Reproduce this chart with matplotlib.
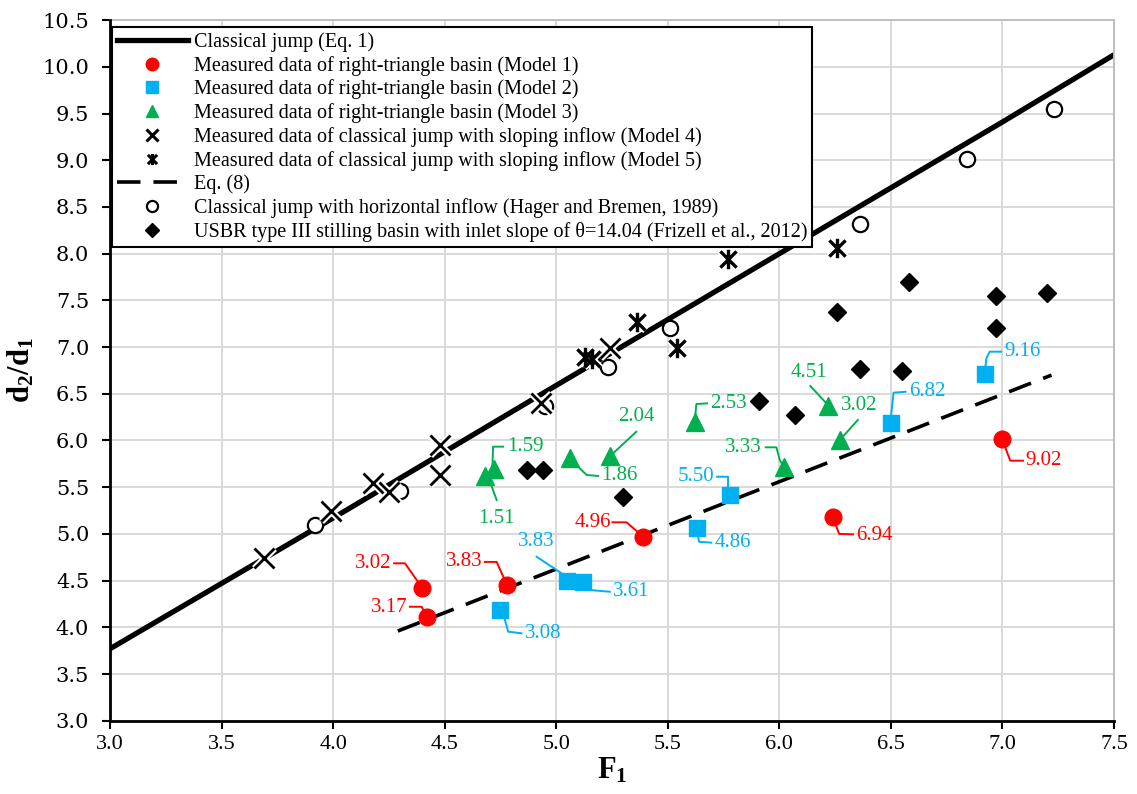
import numpy as np
import matplotlib
matplotlib.use('Agg')
import matplotlib.pyplot as plt
from matplotlib.path import Path
from matplotlib.lines import Line2D

plt.rcParams.update({
    'font.family': 'serif',
    'font.serif': ['Liberation Serif', 'DejaVu Serif'],
    'mathtext.fontset': 'custom',
    'mathtext.rm': 'Liberation Serif',
    'mathtext.it': 'Liberation Serif:italic',
    'mathtext.bf': 'Liberation Serif:bold',
})

RED, BLUE, GREEN = '#FF0000', '#00B0F0', '#00B050'

# --- Data ---
# Classical jump, Eq. (1)
eq1_F = [3.0, 4.0, 5.0, 6.0, 7.0, 7.5]
eq1_y = [3.77, 5.17, 6.59, 8.00, 9.41, 10.13]
# Eq. (8)
eq8_F = [4.29, 7.22]
eq8_y = [3.96, 6.70]

# Model 1 (red circles)
m1_F = [4.40, 4.42, 4.78, 5.39, 6.24, 7.00]
m1_y = [4.42, 4.11, 4.45, 4.97, 5.18, 6.02]
m1_lab = ['3.02', '3.17', '3.83', '4.96', '6.94', '9.02']

# Model 2 (blue squares)
m2_F = [4.75, 5.05, 5.12, 5.63, 5.78, 6.50, 6.92]
m2_y = [4.19, 4.50, 4.49, 5.06, 5.42, 6.19, 6.71]
m2_lab = ['3.08', '3.83', '3.61', '4.86', '5.50', '6.82', '9.16']

# Model 3 (green triangles)
m3_F = [4.68, 4.72, 5.06, 5.24, 5.62, 6.02, 6.22, 6.27]
m3_y = [5.62, 5.70, 5.81, 5.83, 6.20, 5.72, 6.37, 6.01]
m3_lab = ['1.51', '1.59', '1.86', '2.04', '2.53', '3.33', '4.51', '3.02']

# Model 4 (x)
m4_F = [3.69, 3.99, 4.18, 4.25, 4.48, 4.48, 4.93, 5.24]
m4_y = [4.74, 5.24, 5.54, 5.45, 5.95, 5.63, 6.40, 6.99]

# Model 5 (asterisk)
m5_F = [5.13, 5.16, 5.36, 5.54, 5.77, 6.26]
m5_y = [6.89, 6.87, 7.27, 6.99, 7.94, 8.06]

# Hager and Bremen (1989)
hb_F = [3.92, 4.30, 4.95, 5.23, 5.51, 6.36, 6.84, 7.23]
hb_y = [5.10, 5.46, 6.37, 6.79, 7.20, 8.32, 9.01, 9.55]

# Frizell et al. (2012)
fr_F = [4.87, 4.94, 5.30, 5.91, 6.07, 6.26, 6.36, 6.55, 6.58, 6.97, 6.97, 7.20]
fr_y = [5.68, 5.68, 5.40, 6.42, 6.27, 7.38, 6.77, 6.74, 7.70, 7.55, 7.20, 7.58]

# --- Label placement: (text x, text y, ha) and leader vertices from text to point ---
m1_txt = [(4.26, 4.685, 'right'), (4.335, 4.215, 'right'), (4.67, 4.70, 'right'),
          (5.245, 5.12, 'right'), (6.345, 4.985, 'left'), (7.105, 5.784, 'left')]
m1_lead = [[(4.273, 4.685), (4.322, 4.685)], [(4.344, 4.22), (4.397, 4.22)],
           [(4.68, 4.70), (4.733, 4.70)], [(5.252, 5.124), (5.315, 5.124)],
           [(6.33, 4.995), (6.268, 5.0)], [(7.092, 5.784), (7.035, 5.784), (7.017, 5.898)]]

m2_txt = [(4.86, 3.936, 'left'), (4.91, 4.92, 'center'), (5.255, 4.38, 'left'),
          (5.71, 4.906, 'left'), (5.71, 5.612, 'right'), (6.58, 6.522, 'left'),
          (7.01, 6.951, 'left')]
m2_lead = [[(4.844, 3.936), (4.785, 3.953), (4.77, 4.078)],
           [(4.912, 4.756), (5.024, 4.578)],
           [(5.24, 4.381), (5.151, 4.399)],
           [(5.695, 4.906), (5.64, 4.916)],
           [(5.72, 5.612), (5.77, 5.612), (5.77, 5.488)],
           [(6.566, 6.522), (6.512, 6.512), (6.502, 6.291)],
           [(6.995, 6.951), (6.943, 6.951), (6.928, 6.88)]]

m3_txt = [(4.733, 5.167, 'center'), (4.78, 5.934, 'left'), (5.20, 5.62, 'left'),
          (5.36, 6.255, 'center'), (5.69, 6.398, 'left'), (5.92, 5.927, 'right'),
          (6.133, 6.726, 'center'), (6.36, 6.38, 'center')]
m3_lead = [[(4.733, 5.363), (4.703, 5.559)],
           [(4.762, 5.934), (4.717, 5.934), (4.714, 5.72)],
           [(5.188, 5.62), (5.136, 5.631)],
           [(5.359, 6.094), (5.255, 5.863)],
           [(5.676, 6.398), (5.628, 6.39), (5.625, 6.308)],
           [(5.939, 5.927), (5.987, 5.927), (6.002, 5.79)],
           [(6.139, 6.584), (6.211, 6.398)],
           [(6.352, 6.22), (6.278, 6.024)]]

# asterisk marker (x + vertical bar, as in Excel)
star = Path([(-1, -1), (1, 1), (-1, 1), (1, -1), (0, -1.2), (0, 1.2)],
            [Path.MOVETO, Path.LINETO, Path.MOVETO, Path.LINETO, Path.MOVETO, Path.LINETO])

fig = plt.figure(figsize=(11.37, 7.94), dpi=100)
ax = fig.add_axes([110 / 1137, 1 - 720.7 / 794, 1004 / 1137, 700.5 / 794])

ax.set_xlim(3.0, 7.5)
ax.set_ylim(3.0, 10.5)
ax.set_xticks(np.arange(3.0, 7.51, 0.5))
ax.set_yticks(np.arange(3.0, 10.51, 0.5))
ax.set_xticklabels([f'{v:.1f}' for v in np.arange(3.0, 7.51, 0.5)], fontsize=16)
ax.set_yticklabels([f'{v:.1f}' for v in np.arange(3.0, 10.51, 0.5)],
                   fontsize=15, family='DejaVu Serif')
ax.grid(True, color='#D9D9D9', linewidth=1.4, zorder=0)
ax.set_axisbelow(True)
for s in ['left', 'bottom']:
    ax.spines[s].set_linewidth(2.0)
    ax.spines[s].set_zorder(7)
for s in ['top', 'right']:
    ax.spines[s].set_color('#BFBFBF')
    ax.spines[s].set_linewidth(1.4)
ax.tick_params(direction='out', length=6, width=1.5, pad=4)
ax.tick_params(axis='y', pad=9)

ax.set_xlabel(r'$\mathbf{F_1}$', fontsize=22, labelpad=2)
ax.set_ylabel(r'$\mathbf{d_2/d_1}$', fontsize=22, labelpad=4)

# lines
ax.plot(eq1_F, eq1_y, color='black', lw=3.8, zorder=2, solid_capstyle='butt')
ax.plot(eq8_F, eq8_y, color='black', lw=2.6, dashes=(6.5, 3.6), zorder=2)

# leaders + labels
def label_points(xs, ys, labels, txts, leads, color):
    for x, y, lab, (tx, ty, ha), lead in zip(xs, ys, labels, txts, leads):
        pts = lead + [(x, y)]
        ax.plot([p[0] for p in pts], [p[1] for p in pts], color=color, lw=1.4, zorder=4)
        ax.text(tx, ty, lab, color=color, fontsize=15, ha=ha, va='center', zorder=5)

label_points(m1_F, m1_y, m1_lab, m1_txt, m1_lead, RED)
label_points(m2_F, m2_y, m2_lab, m2_txt, m2_lead, BLUE)
label_points(m3_F, m3_y, m3_lab, m3_txt, m3_lead, GREEN)

# markers
ax.plot(hb_F, hb_y, 'o', ms=11, mfc='white', mec='black', mew=1.6, ls='none', zorder=5)
ax.plot(fr_F, fr_y, 'D', ms=9, color='black', ls='none', zorder=5)
ax.plot(m4_F, m4_y, 'x', ms=14, mec='white', mew=5, ls='none', zorder=5)
ax.plot(m4_F, m4_y, 'x', ms=14, mec='black', mew=2, ls='none', zorder=6)
ax.plot(m5_F, m5_y, marker=star, ms=14, mec='white', mew=5, ls='none', zorder=5)
ax.plot(m5_F, m5_y, marker=star, ms=14, mec='black', mew=2.4, ls='none', zorder=6)
ax.plot(m1_F, m1_y, 'o', ms=12, color=RED, ls='none', zorder=6)
ax.plot(m2_F, m2_y, 's', ms=11, color=BLUE, ls='none', zorder=6)
ax.plot(m3_F, m3_y, '^', ms=13, color=GREEN, ls='none', zorder=6)

handles = [
    Line2D([], [], color='black', lw=3.8),
    Line2D([], [], marker='o', ms=9, color=RED, ls='none'),
    Line2D([], [], marker='s', ms=8, color=BLUE, ls='none'),
    Line2D([], [], marker='^', ms=9, color=GREEN, ls='none'),
    Line2D([], [], marker='x', ms=8, mec='black', mew=2.2, ls='none'),
    Line2D([], [], marker=star, ms=8, mec='black', mew=2.2, ls='none'),
    Line2D([], [], color='black', lw=2.6, dashes=(6.5, 3.6)),
    Line2D([], [], marker='o', ms=8, mfc='white', mec='black', mew=1.6, ls='none'),
    Line2D([], [], marker='D', ms=7, color='black', ls='none'),
]
names = [
    'Classical jump (Eq. 1)',
    'Measured data of right-triangle basin (Model 1)',
    'Measured data of right-triangle basin (Model 2)',
    'Measured data of right-triangle basin (Model 3)',
    'Measured data of classical jump with sloping inflow (Model 4)',
    'Measured data of classical jump with sloping inflow (Model 5)',
    'Eq. (8)',
    'Classical jump with horizontal inflow (Hager and Bremen, 1989)',
    'USBR type III stilling basin with inlet slope of \u03b8=14.04 (Frizell et al., 2012)',
]
leg = ax.legend(handles, names, loc='upper left', bbox_to_anchor=(0.002, 0.99),
                borderaxespad=0, fontsize=14.5, frameon=True, fancybox=False,
                edgecolor='black', framealpha=1, handlelength=3.5, handletextpad=0.3,
                labelspacing=0.19, borderpad=0.25, numpoints=1)
leg.get_frame().set_linewidth(1.5)
leg.set_zorder(10)

fig.savefig('out.png', dpi=100)
